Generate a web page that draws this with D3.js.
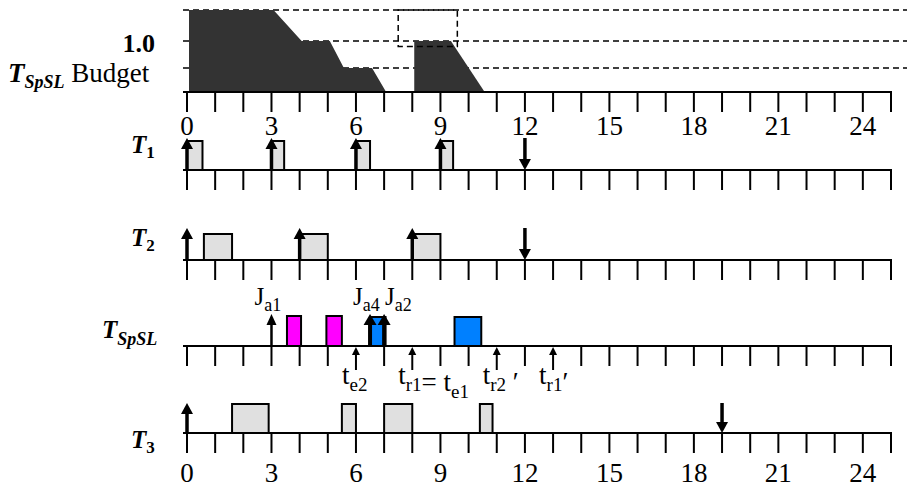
<!DOCTYPE html>
<html>
<head>
<meta charset="utf-8">
<script src="https://cdn.jsdelivr.net/npm/d3@7"></script>
<style>
  body { margin: 0; background: #fff; }
  svg { display: block; }
  text { font-family: "Liberation Serif", "Times New Roman", serif; fill: #000; }
</style>
</head>
<body>
<div id="chart"></div>
<script>
// time axis
const timeTicks = d3.range(0, 26);
const tickLabels = [0, 3, 6, 9, 12, 15, 18, 21, 24];

// T_SpSL budget (time, budget level)
const budgetLevels = [0, 0.5, 1.0, 1.5];
const budgetDrain1 = [[0, 0], [0, 1.5], [3, 1.5], [4, 1.0], [5, 1.0], [5.5, 0.5], [6.5, 0.5], [7, 0]];
const budgetDrain2 = [[8, 0], [8, 1.0], [9.3, 1.0], [10.5, 0]];
const replenishBox = [7.5, 9.6, 0.9, 1.5];   // from, to, low, high

// periodic tasks: releases, executions [start, end], deadlines
const t1Release = [0, 3, 6, 9];
const t1Exec = [[0, 0.55], [3, 3.45], [6, 6.5], [9, 9.45]];
const t1Deadline = [12];

const t2Release = [0, 4, 8];
const t2Exec = [[0.6, 1.6], [4, 5], [8, 9]];
const t2Deadline = [12];

const t3Release = [0];
const t3Exec = [[1.6, 2.9], [5.5, 6], [7, 8], [10.4, 10.85]];
const t3Deadline = [19];

// sporadic server
const spslExecA = [[3.55, 4.05], [4.95, 5.5]];
const spslExecB = [[6.5, 7.05], [9.5, 10.45]];
const spslArrivals = [{t: 3, sub: "a1"}, {t: 6.5, sub: "a4"}, {t: 7, sub: "a2"}];
const spslEvents = [
  {t: 6, parts: [["t", "e2"]]},
  {t: 8, parts: [["t", "r1"], ["= t", "e1"]]},
  {t: 11, parts: [["t", "r2"], [" \u2032", ""]]},
  {t: 13, parts: [["t", "r1"], ["\u2032", ""]]}
];

const width = 907, height = 488;
const svg = d3.select("#chart").append("svg")
  .attr("width", width).attr("height", height);

const x = d3.scaleLinear().domain([0, 25]).range([187, 891]);
const yBudget = d3.scaleLinear().domain(budgetLevels).range([92, 68, 41, 10]);

const rowY = {budget: 92, t1: 170, t2: 260, spsl: 346, t3: 433};
const tickLen = 20;

function upArrow(g, cx, yBase, yTip, sw, hw, hh) {
  g.append("line")
    .attr("x1", cx).attr("x2", cx).attr("y1", yBase).attr("y2", yTip + hh - 1)
    .attr("stroke", "#000").attr("stroke-width", sw);
  g.append("path")
    .attr("d", `M${cx - hw / 2},${yTip + hh}L${cx},${yTip}L${cx + hw / 2},${yTip + hh}Z`)
    .attr("fill", "#000");
}
function downArrow(g, cx, yTop, yTip, sw, hw, hh) {
  g.append("line")
    .attr("x1", cx).attr("x2", cx).attr("y1", yTop).attr("y2", yTip - hh + 1)
    .attr("stroke", "#000").attr("stroke-width", sw);
  g.append("path")
    .attr("d", `M${cx - hw / 2},${yTip - hh}L${cx},${yTip}L${cx + hw / 2},${yTip - hh}Z`)
    .attr("fill", "#000");
}

function axisRow(y, skip) {
  const g = svg.append("g");
  g.selectAll("line.tick")
    .data(timeTicks.filter(t => !skip.includes(t)))
    .enter().append("line")
      .attr("class", "tick")
      .attr("x1", d => x(d)).attr("x2", d => x(d))
      .attr("y1", y).attr("y2", y + tickLen)
      .attr("stroke", "#000").attr("stroke-width", 2);
  g.append("line")
    .attr("x1", 183).attr("x2", x(25) + 1).attr("y1", y).attr("y2", y)
    .attr("stroke", "#000").attr("stroke-width", 2);
  return g;
}

function boxes(g, y, spans, h, fill) {
  g.selectAll(null).data(spans).enter().append("rect")
    .attr("x", d => x(d[0])).attr("y", y - h)
    .attr("width", d => x(d[1]) - x(d[0])).attr("height", h)
    .attr("fill", fill).attr("stroke", "#000").attr("stroke-width", 2);
}

// ---- budget ----
const gb = svg.append("g");
budgetLevels.slice(1).forEach(l => {
  gb.append("line")
    .attr("x1", 183).attr("x2", width).attr("y1", yBudget(l)).attr("y2", yBudget(l))
    .attr("stroke", "#000").attr("stroke-width", 1.5).attr("stroke-dasharray", "6,4");
});
const area = d3.line().x(d => x(d[0]) + 2).y(d => yBudget(d[1]));
[budgetDrain1, budgetDrain2].forEach(p => {
  gb.append("path").attr("d", area(p) + "Z").attr("fill", "#333");
});
gb.append("rect")
  .attr("x", x(replenishBox[0])).attr("y", yBudget(replenishBox[3]))
  .attr("width", x(replenishBox[1]) - x(replenishBox[0]))
  .attr("height", yBudget(replenishBox[2]) - yBudget(replenishBox[3]))
  .attr("fill", "none").attr("stroke", "#000").attr("stroke-width", 1.5)
  .attr("stroke-dasharray", "6,4");
axisRow(rowY.budget, []);

svg.append("text").attr("x", 155).attr("y", 52).attr("text-anchor", "end")
  .attr("font-size", 26).attr("font-weight", "bold").text("1.0");
const bl = svg.append("text").attr("x", 8).attr("y", 82).attr("font-size", 27);
bl.append("tspan").attr("font-weight", "bold").attr("font-style", "italic").text("T");
bl.append("tspan").attr("font-weight", "bold").attr("font-style", "italic")
  .attr("font-size", 18).attr("dy", 6).text("SpSL");
bl.append("tspan").attr("dy", -6).text(" Budget");

// tick numbers
[135, 482].forEach(yy => {
  svg.append("g").selectAll("text").data(tickLabels).enter().append("text")
    .attr("x", d => x(d)).attr("y", yy).attr("text-anchor", "middle")
    .attr("font-size", 27).text(d => d);
});

// ---- periodic task rows ----
function taskRow(y, rel, exec, dl, h, arrowTop) {
  const g = axisRow(y, []);
  boxes(g, y, exec, h, "#e0e0e0");
  rel.forEach(t => upArrow(g, x(t), y, arrowTop, 3.5, 12, 11));
  dl.forEach(t => downArrow(g, x(t), arrowTop, y, 3.5, 12, 11));
}
taskRow(rowY.t1, t1Release, t1Exec, t1Deadline, 29, 138);
taskRow(rowY.t2, t2Release, t2Exec, t2Deadline, 26, 228);
taskRow(rowY.t3, t3Release, t3Exec, t3Deadline, 29, 403);

function rowLabel(y, sub) {
  const t = svg.append("text").attr("x", 131).attr("y", y).attr("font-size", 25)
    .attr("font-weight", "bold");
  t.append("tspan").attr("font-style", "italic").text("T");
  t.append("tspan").attr("font-size", 17).attr("dy", 5).text(sub);
}
rowLabel(153, "1");
rowLabel(246, "2");
rowLabel(448, "3");
const sl = svg.append("text").attr("x", 102).attr("y", 338).attr("font-size", 25)
  .attr("font-weight", "bold").attr("font-style", "italic");
sl.append("tspan").text("T");
sl.append("tspan").attr("font-size", 18).attr("dy", 7).text("SpSL");

// ---- sporadic server row ----
const gs = axisRow(rowY.spsl, spslEvents.map(e => e.t));
boxes(gs, rowY.spsl, spslExecA, 30, "#ff00ff");
boxes(gs, rowY.spsl, spslExecB, 29, "#0080ff");
spslArrivals.forEach((a, i) => {
  upArrow(gs, x(a.t), rowY.spsl, 314, i === 0 ? 2.5 : 4, i === 0 ? 10 : 13, 11);
  const lx = i === 2 ? x(a.t) + 1 : x(a.t) - 17;
  const tx = gs.append("text").attr("x", lx).attr("y", 305).attr("font-size", 25);
  tx.append("tspan").text("J");
  tx.append("tspan").attr("font-size", 18).attr("dy", 6).text(a.sub);
});
spslEvents.forEach(e => {
  upArrow(gs, x(e.t), 370, rowY.spsl + 1, 2, 8, 8);
  const tx = gs.append("text").attr("x", x(e.t) - 14).attr("y", 384).attr("font-size", 27);
  e.parts.forEach(p => {
    tx.append("tspan").attr("dy", 0).text(p[0]);
    if (p[1]) {
      tx.append("tspan").attr("font-size", 19).attr("dy", 7).text(p[1]);
      tx.append("tspan").attr("dy", -7).text("");
    }
  });
});
</script>
</body>
</html>
